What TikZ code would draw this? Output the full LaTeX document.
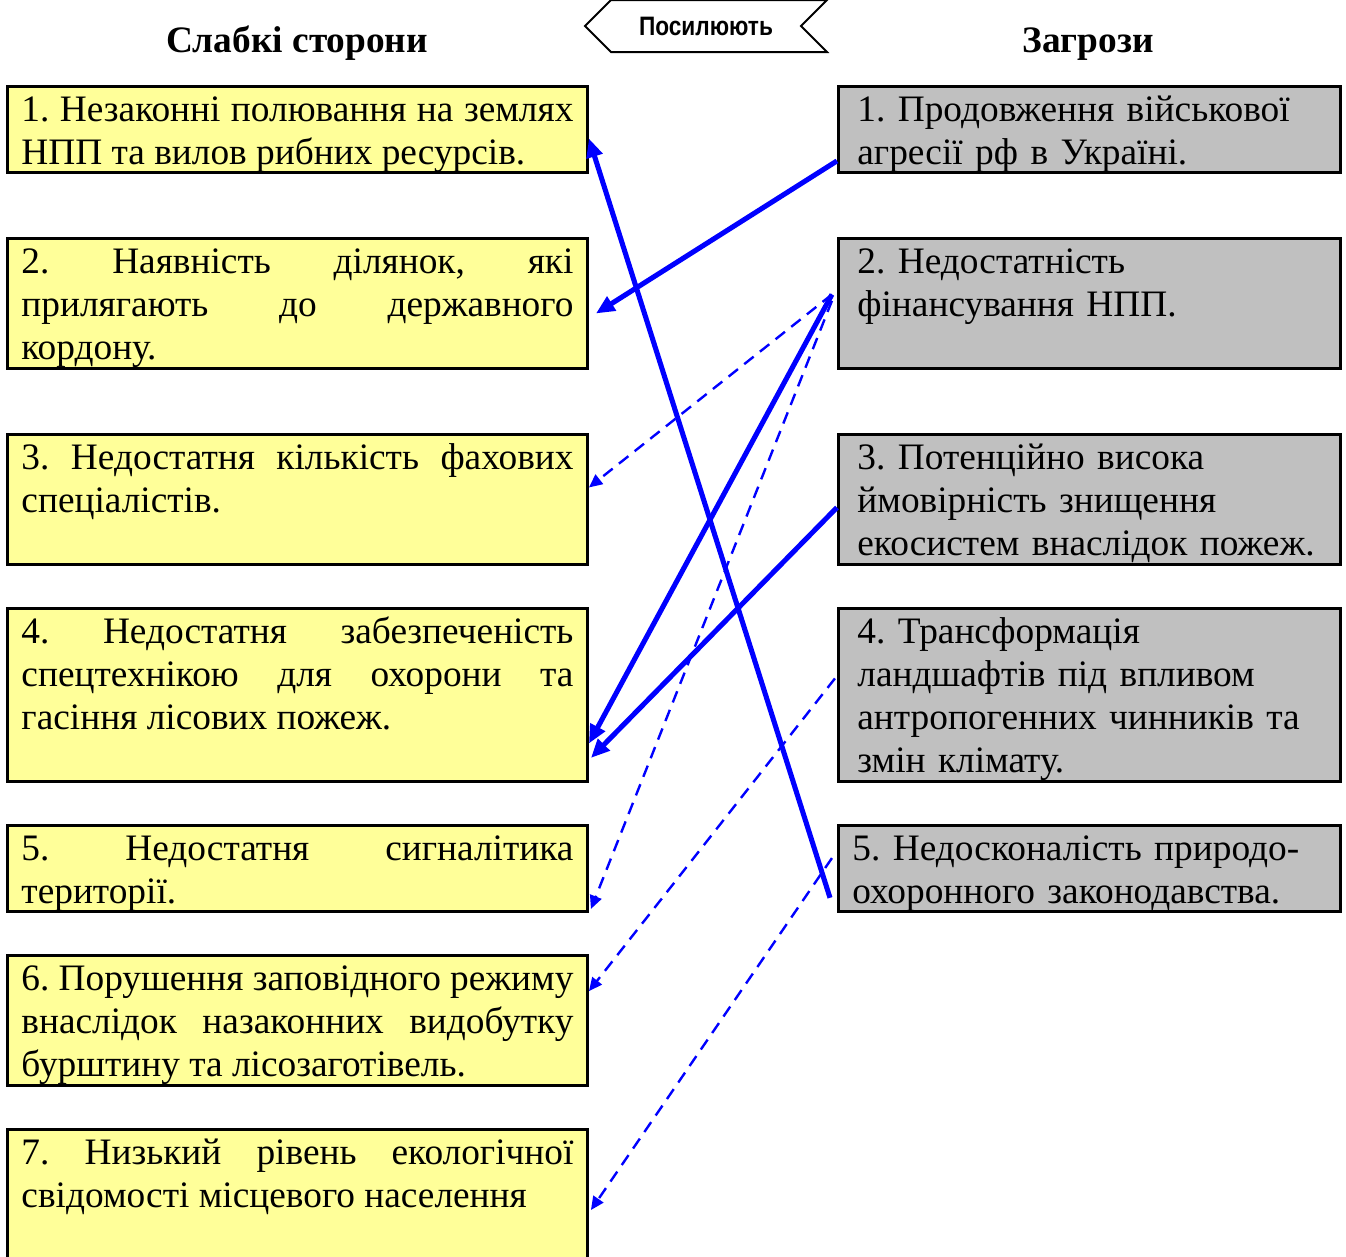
\documentclass[tikz,border=0pt]{standalone}
\usepackage{fontspec}
\setmainfont{Liberation Serif}
\newfontfamily\bannerfont[FakeStretch=0.85]{Liberation Sans}
\usetikzlibrary{positioning,shapes.symbols,arrows.meta}
\definecolor{weakfill}{HTML}{FFFF99}
\definecolor{threatfill}{HTML}{C0C0C0}
\definecolor{linkblue}{HTML}{0000FF}
\hbadness=10000
\frenchspacing

\tikzset{
  weak/.style={draw, fill=weakfill, line width=1.1pt, inner xsep=5.25pt, inner ysep=0pt,
    text width=207pt, align=justify, text height=13.125pt,
    font=\fontsize{14pt}{16.125pt}\selectfont},
  threat/.style={weak, fill=threatfill, inner xsep=7.125pt, text width=174pt, align=left},
  twolines/.style={text depth=19.125pt},
  threelines/.style={text depth=35.625pt},
  fourlines/.style={text depth=51.75pt},
  head/.style={anchor=base, font=\fontsize{14pt}{16pt}\selectfont\bfseries},
  banner/.style={draw, fill=white, signal, signal to=west, signal from=east, line width=0.75pt,
    minimum width=90.75pt, minimum height=19.5pt, inner sep=0pt,
    font=\bannerfont\bfseries\fontsize{10pt}{12pt}\selectfont},
  link/.style={linkblue, line width=1.9pt, -{Triangle[length=7pt,width=6pt]}},
  weaklink/.style={linkblue, line width=0.9pt, dash pattern=on 4.5pt off 3pt,
    -{Triangle[length=5pt,width=4.5pt]}}
}

\begin{document}
\begin{tikzpicture}[x=0.375pt,y=-0.375pt]
\clip (0,0) rectangle (1346,1256);

% headings
\node[head] (weakhead) at (297,52) {Слабкі сторони};
\node[head] (threathead) at (1088,52) {Загрози};
\node[banner] (boost) at (706,26) {Посилюють};

% weak sides
\node[weak,twolines,anchor=north west] (l1) at (6,85)
  {1. Незаконні полювання на землях\linebreak НПП та вилов рибних ресурсів.};
\node[weak,threelines,below=23.65pt of l1] (l2)
  {2. Наявність ділянок, які\linebreak прилягають до державного\linebreak кордону.};
\node[weak,threelines,below=23.65pt of l2] (l3)
  {3. Недостатня кількість фахових\linebreak спеціалістів.};
\node[weak,fourlines,below=15.4pt of l3] (l4)
  {4. Недостатня забезпеченість\linebreak спецтехнікою для охорони та\linebreak гасіння лісових пожеж.};
\node[weak,twolines,below=15.4pt of l4] (l5)
  {5. Недостатня сигналітика\linebreak території.};
\node[weak,threelines,below=15.4pt of l5] (l6)
  {6. Порушення заповідного режиму\linebreak внаслідок назаконних видобутку\linebreak бурштину та лісозаготівель.};
\node[weak,threelines,below=15.4pt of l6] (l7)
  {7. Низький рівень екологічної\linebreak свідомості місцевого населення};

% threats
\node[threat,twolines,right=93pt of l1] (r1)
  {1. Продовження військової\\ агресії рф в Україні.};
\node[threat,threelines,right=93pt of l2] (r2)
  {2. Недостатність\\ фінансування НПП.};
\node[threat,threelines,right=93pt of l3] (r3)
  {3. Потенційно висока\\ ймовірність знищення\\ екосистем внаслідок пожеж.};
\node[threat,fourlines,right=93pt of l4] (r4)
  {4. Трансформація\\ ландшафтів під впливом\\ антропогенних чинників та\\ змін клімату.};
\node[threat,twolines,right=93pt of l5,inner xsep=5.25pt,text width=177.75pt] (r5)
  {5. Недосконалість природо-\\ охоронного законодавства.};

% links
\draw[link] ([yshift=4.875pt]r1.south west) -- ([xshift=2.625pt,yshift=-3.75pt]l2.east);
\draw[link] ([xshift=-1.875pt,yshift=3.375pt]r2.west) -- ([yshift=-18.2pt]l4.east);
\draw[link] ([yshift=-3pt]r3.west) -- ([xshift=0.75pt,yshift=-23.6pt]l4.east);
\draw[link] ([xshift=-2.6pt,yshift=-11pt]r5.west) -- ([yshift=-3.4pt]l1.east);
\draw[weaklink] ([xshift=-1.875pt,yshift=3.375pt]r2.west) -- ([yshift=4.5pt]l3.east);
\draw[weaklink] ([xshift=-1.875pt,yshift=1pt]r2.west) -- ([xshift=0.75pt,yshift=1.5pt]l5.south east);
\draw[weaklink] ([xshift=-0.75pt,yshift=6.2pt]r4.west) -- ([yshift=11pt]l6.east);
\draw[weaklink] ([xshift=-1.875pt,yshift=3.9pt]r5.west) -- ([xshift=0.75pt,yshift=-30.75pt]l7.north east);

\end{tikzpicture}
\end{document}
